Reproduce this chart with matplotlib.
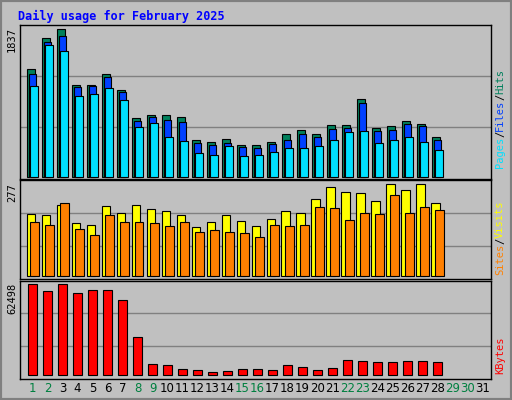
import matplotlib
matplotlib.use("Agg")
import matplotlib.pyplot as plt
from matplotlib.patches import Rectangle

days = list(range(1, 29))
hits = [1338,1725,1837,1139,1139,1276,1076,727,765,765,740,453,428,465,391,391,428,528,578,528,640,640,964,603,628,690,652,490]
files = [1276,1675,1750,1114,1126,1238,1051,690,740,702,677,416,391,416,366,353,403,453,528,490,590,603,914,565,578,652,628,453]
pages = [1126,1637,1563,1002,1027,1101,952,615,665,490,441,291,266,378,254,266,303,353,353,378,453,553,565,416,453,490,428,328]
visits = [186,183,213,159,153,210,189,213,201,195,183,147,162,183,165,150,171,195,189,231,267,252,249,225,276,258,276,219]
sites = [162,153,219,141,123,183,162,162,159,150,162,132,138,132,129,117,153,150,153,207,204,168,189,186,243,189,207,198]
kbytes = [62498,57700,62498,56300,58400,58400,51500,26100,7550,6870,4120,3430,2060,2750,4120,4120,3430,6870,5490,3430,4810,10300,9610,8930,8930,9610,9610,8930]
xlabels = [str(i) for i in range(1, 32)]
weekend = [1, 2, 8, 9, 15, 16, 22, 23, 29, 30]

W, H = 512, 400
fig = plt.figure(figsize=(5.12, 4.0), dpi=100)
fig.patch.set_facecolor('#c0c0c0')
fig.add_artist(Rectangle((0, 0), 1, 1, transform=fig.transFigure, fill=False, edgecolor='#808080', lw=3))
fig.text(18/W, 1-16/H, "Daily usage for February 2025", color='#0000ff', fontsize=8.5,
         fontweight='bold', family='DejaVu Sans Mono', va='center')

XL, XR = 20.3, 490.7
def mkax(top, bottom, ylim, grids):
    ax = fig.add_axes([XL/W, 1-bottom/H, (XR-XL)/W, (bottom-top)/H])
    ax.set_facecolor('#c0c0c0')
    ax.set_xlim((XL-17.5)/15, (XR-17.5)/15)
    ax.set_ylim(*ylim)
    ax.set_xticks([]); ax.set_yticks([])
    for s in ax.spines.values():
        s.set_color('black'); s.set_linewidth(1)
    for g in grids:
        ax.axhline(g, color='#808080', lw=1, zorder=1)
    return ax

def side(top, bottom, label, parts):
    fig.text(12/W, 1-top/H, label, rotation=90, fontsize=7.5, family='DejaVu Sans Mono',
             ha='center', va='top')
    y = bottom
    for txt, c in parts:
        fig.text(500/W, 1-y/H, txt, rotation=90, fontsize=7.5, family='DejaVu Sans Mono',
                 color=c, ha='center', va='bottom')
        y -= len(txt) * 6.2

def bars(ax, series, colors, w, offs):
    for vals, c, off in zip(series, colors, offs):
        ax.bar([d + off for d in days], vals, width=w, color=c, edgecolor='black', lw=0.8, zorder=3)

ax1 = mkax(25, 179.3, (-33, 1891), [615, 1251])
bars(ax1, [hits, files, pages], ['#00805c', '#0040ff', '#00e0ff'], 0.53, [-0.13, 0.0, 0.13])
side(27, 168, "1837", [("Pages", '#00e0ff'), ("/", 'black'), ("Files", '#0040ff'), ("/", 'black'), ("Hits", '#00805c')])

ax2 = mkax(180.3, 279.3, (-9, 287), [90, 189])
bars(ax2, [visits, sites], ['#ffff00', '#ff8000'], 0.56, [-0.12, 0.12])
side(183, 275, "277", [("Sites", '#ff8000'), ("/", 'black'), ("Visits", '#ffff00')])

ax3 = mkax(280.7, 378.7, (-2289, 65008), [19900, 42600])
bars(ax3, [kbytes], ['#ff0000'], 0.66, [0.0])
side(283, 374, "62498", [("KBytes", '#ff0000')])

for i, lab in enumerate(xlabels):
    d = i + 1
    x = 17.5 + 15*d
    fig.text(x/W, 1-389/H, lab, fontsize=8.5, family='DejaVu Sans', ha='center', va='center',
             color='#008040' if d in weekend else 'black')

fig.savefig("out.png", dpi=100, facecolor=fig.get_facecolor())
